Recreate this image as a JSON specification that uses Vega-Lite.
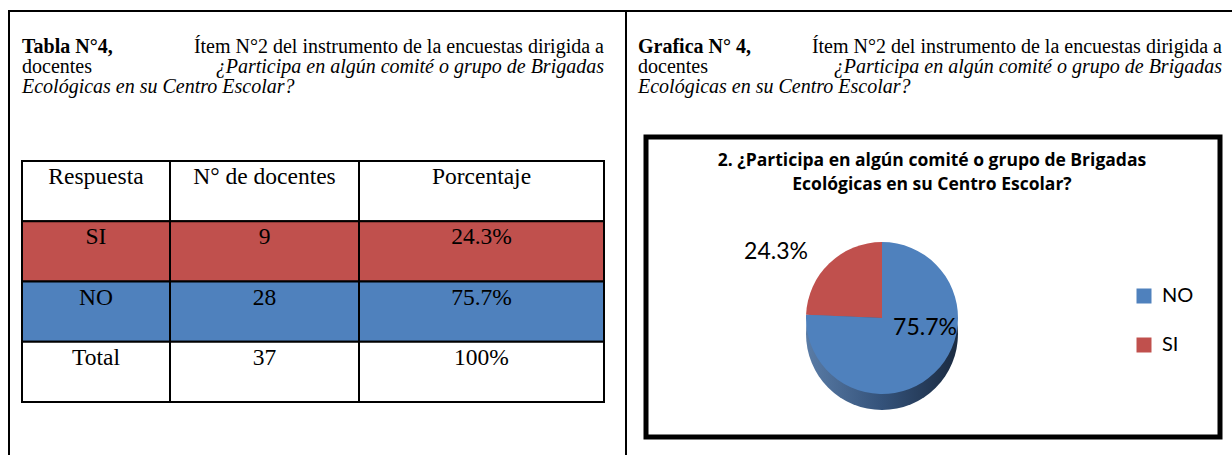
{
  "$schema": "https://vega.github.io/schema/vega-lite/v6.json",
  "width": 1232,
  "height": 455,
  "autosize": "none",
  "padding": 0,
  "background": "white",
  "config": {"view": {"stroke": null}},
  "datasets": {
    "paneles": [{"panel": "Tabla"}, {"panel": "Grafica"}],
    "leyendas": [
      {"panel": "Tabla", "linea": 1, "segmento": 1, "tipo": "rotulo", "texto": "Tabla N°4,"},
      {"panel": "Tabla", "linea": 1, "segmento": 2, "tipo": "texto", "texto": "Ítem N°2 del instrumento de la encuestas dirigida a"},
      {"panel": "Tabla", "linea": 2, "segmento": 1, "tipo": "texto", "texto": "docentes"},
      {"panel": "Tabla", "linea": 2, "segmento": 2, "tipo": "pregunta", "texto": "¿Participa en algún comité o grupo de Brigadas"},
      {"panel": "Tabla", "linea": 3, "segmento": 1, "tipo": "pregunta", "texto": "Ecológicas en su Centro Escolar?"},
      {"panel": "Grafica", "linea": 1, "segmento": 1, "tipo": "rotulo", "texto": "Grafica  N° 4,"},
      {"panel": "Grafica", "linea": 1, "segmento": 2, "tipo": "texto", "texto": "Ítem N°2 del instrumento de la encuestas dirigida a"},
      {"panel": "Grafica", "linea": 2, "segmento": 1, "tipo": "texto", "texto": "docentes"},
      {"panel": "Grafica", "linea": 2, "segmento": 2, "tipo": "pregunta", "texto": "¿Participa en algún comité o grupo de Brigadas"},
      {"panel": "Grafica", "linea": 3, "segmento": 1, "tipo": "pregunta", "texto": "Ecológicas en su Centro Escolar?"}
    ],
    "tabla": [
      {"fila": "encabezado", "columna": "Respuesta", "texto": "Respuesta"},
      {"fila": "encabezado", "columna": "N° de docentes", "texto": "N° de docentes"},
      {"fila": "encabezado", "columna": "Porcentaje", "texto": "Porcentaje"},
      {"fila": "SI", "columna": "Respuesta", "texto": "SI"},
      {"fila": "SI", "columna": "N° de docentes", "texto": "9"},
      {"fila": "SI", "columna": "Porcentaje", "texto": "24.3%"},
      {"fila": "NO", "columna": "Respuesta", "texto": "NO"},
      {"fila": "NO", "columna": "N° de docentes", "texto": "28"},
      {"fila": "NO", "columna": "Porcentaje", "texto": "75.7%"},
      {"fila": "Total", "columna": "Respuesta", "texto": "Total"},
      {"fila": "Total", "columna": "N° de docentes", "texto": "37"},
      {"fila": "Total", "columna": "Porcentaje", "texto": "100%"}
    ],
    "respuestas": [
      {"Respuesta": "SI", "docentes": 9, "porcentaje": "24.3%"},
      {"Respuesta": "NO", "docentes": 28, "porcentaje": "75.7%"}
    ],
    "titulo": [
      {"linea": 1, "texto": "2. ¿Participa en algún comité o grupo de Brigadas"},
      {"linea": 2, "texto": "Ecológicas en su Centro Escolar?"}
    ]
  },
  "layer": [
    {
      "data": {"name": "paneles"},
      "mark": {"type": "rect", "fill": "white", "stroke": "black", "strokeWidth": 2},
      "encoding": {
        "x": {"field": "panel", "type": "nominal", "axis": null, "scale": {"type": "band", "domain": ["Tabla", "Grafica"], "range": [9, 1243], "paddingInner": 0, "paddingOuter": 0}},
        "y": {"datum": "pagina", "type": "nominal", "axis": null, "scale": {"type": "band", "domain": ["pagina"], "range": [11, 480], "paddingInner": 0, "paddingOuter": 0}}
      }
    },
    {
      "data": {"name": "leyendas"},
      "transform": [{"filter": "datum.panel === 'Tabla'"}],
      "mark": {
        "type": "text", "font": "Liberation Serif", "fontSize": 20, "baseline": "alphabetic", "color": "black",
        "align": {"expr": "datum.segmento === 1 ? 'left' : 'right'"},
        "fontWeight": {"expr": "datum.tipo === 'rotulo' ? 'bold' : 'normal'"},
        "fontStyle": {"expr": "datum.tipo === 'pregunta' ? 'italic' : 'normal'"}
      },
      "encoding": {
        "x": {"field": "segmento", "type": "ordinal", "axis": null, "scale": {"type": "point", "domain": [1, 2], "range": [22, 604], "padding": 0}},
        "y": {"field": "linea", "type": "ordinal", "axis": null, "scale": {"type": "point", "domain": [1, 2, 3], "range": [53, 93], "padding": 0}},
        "text": {"field": "texto"}
      }
    },
    {
      "data": {"name": "leyendas"},
      "transform": [{"filter": "datum.panel === 'Grafica'"}],
      "mark": {
        "type": "text", "font": "Liberation Serif", "fontSize": 20, "baseline": "alphabetic", "color": "black",
        "align": {"expr": "datum.segmento === 1 ? 'left' : 'right'"},
        "fontWeight": {"expr": "datum.tipo === 'rotulo' ? 'bold' : 'normal'"},
        "fontStyle": {"expr": "datum.tipo === 'pregunta' ? 'italic' : 'normal'"}
      },
      "encoding": {
        "x": {"field": "segmento", "type": "ordinal", "axis": null, "scale": {"type": "point", "domain": [1, 2], "range": [638, 1222], "padding": 0}},
        "y": {"field": "linea", "type": "ordinal", "axis": null, "scale": {"type": "point", "domain": [1, 2, 3], "range": [53, 93], "padding": 0}},
        "text": {"field": "texto"}
      }
    },
    {
      "data": {"name": "tabla"},
      "transform": [{"filter": "datum.columna === 'Respuesta'"}],
      "encoding": {
        "x": {"field": "columna", "type": "nominal", "axis": null, "scale": {"type": "band", "domain": ["Respuesta"], "range": [22, 170], "paddingInner": 0, "paddingOuter": 0}},
        "y": {"field": "fila", "type": "nominal", "axis": null, "scale": {"type": "band", "domain": ["encabezado", "SI", "NO", "Total"], "range": [161, 402], "paddingInner": 0, "paddingOuter": 0}}
      },
      "layer": [
        {"mark": {"type": "rect", "stroke": "black", "strokeWidth": 2},
         "encoding": {"fill": {"condition": [{"test": "datum.fila === 'SI'", "value": "#C0504D"}, {"test": "datum.fila === 'NO'", "value": "#4F81BD"}], "value": "white"}}},
        {"mark": {"type": "text", "font": "Liberation Serif", "fontSize": 23.5, "baseline": "alphabetic", "dy": -7, "color": "black"},
         "encoding": {"text": {"field": "texto"}}}
      ]
    },
    {
      "data": {"name": "tabla"},
      "transform": [{"filter": "datum.columna === 'N° de docentes'"}],
      "encoding": {
        "x": {"field": "columna", "type": "nominal", "axis": null, "scale": {"type": "band", "domain": ["N° de docentes"], "range": [170, 359], "paddingInner": 0, "paddingOuter": 0}},
        "y": {"field": "fila", "type": "nominal", "axis": null, "scale": {"type": "band", "domain": ["encabezado", "SI", "NO", "Total"], "range": [161, 402], "paddingInner": 0, "paddingOuter": 0}}
      },
      "layer": [
        {"mark": {"type": "rect", "stroke": "black", "strokeWidth": 2},
         "encoding": {"fill": {"condition": [{"test": "datum.fila === 'SI'", "value": "#C0504D"}, {"test": "datum.fila === 'NO'", "value": "#4F81BD"}], "value": "white"}}},
        {"mark": {"type": "text", "font": "Liberation Serif", "fontSize": 23.5, "baseline": "alphabetic", "dy": -7, "color": "black"},
         "encoding": {"text": {"field": "texto"}}}
      ]
    },
    {
      "data": {"name": "tabla"},
      "transform": [{"filter": "datum.columna === 'Porcentaje'"}],
      "encoding": {
        "x": {"field": "columna", "type": "nominal", "axis": null, "scale": {"type": "band", "domain": ["Porcentaje"], "range": [359, 604], "paddingInner": 0, "paddingOuter": 0}},
        "y": {"field": "fila", "type": "nominal", "axis": null, "scale": {"type": "band", "domain": ["encabezado", "SI", "NO", "Total"], "range": [161, 402], "paddingInner": 0, "paddingOuter": 0}}
      },
      "layer": [
        {"mark": {"type": "rect", "stroke": "black", "strokeWidth": 2},
         "encoding": {"fill": {"condition": [{"test": "datum.fila === 'SI'", "value": "#C0504D"}, {"test": "datum.fila === 'NO'", "value": "#4F81BD"}], "value": "white"}}},
        {"mark": {"type": "text", "font": "Liberation Serif", "fontSize": 23.5, "baseline": "alphabetic", "dy": -7, "color": "black"},
         "encoding": {"text": {"field": "texto"}}}
      ]
    },
    {
      "data": {"name": "paneles"},
      "transform": [{"filter": "datum.panel === 'Grafica'"}],
      "mark": {"type": "rect", "fill": "white", "stroke": "black", "strokeWidth": 5},
      "encoding": {
        "x": {"field": "panel", "type": "nominal", "axis": null, "scale": {"type": "band", "domain": ["Grafica"], "range": [646, 1220], "paddingInner": 0, "paddingOuter": 0}},
        "y": {"field": "panel", "type": "nominal", "axis": null, "scale": {"type": "band", "domain": ["Grafica"], "range": [137, 437], "paddingInner": 0, "paddingOuter": 0}}
      }
    },
    {
      "data": {"name": "respuestas"},
      "transform": [{"aggregate": [{"op": "sum", "field": "docentes", "as": "total"}]}],
      "mark": {"type": "arc", "radius": 76, "yOffset": 16,
        "fill": {"gradient": "linear", "x1": 0, "y1": 0, "x2": 1, "y2": 0,
          "stops": [{"offset": 0, "color": "#5A7CA6"}, {"offset": 0.5, "color": "#34527A"}, {"offset": 1, "color": "#1B2B41"}]}},
      "encoding": {
        "theta": {"field": "total", "type": "quantitative", "scale": {"domain": [0, 37]}},
        "x": {"datum": "pie", "type": "nominal", "axis": null, "scale": {"type": "point", "domain": ["pie"], "range": [872, 892]}},
        "y": {"datum": "pie", "type": "nominal", "axis": null, "scale": {"type": "point", "domain": ["pie"], "range": [308, 328]}}
      }
    },
    {
      "data": {"name": "respuestas"},
      "mark": {"type": "arc", "radius": 76},
      "encoding": {
        "theta": {"field": "docentes", "type": "quantitative", "stack": true},
        "order": {"field": "docentes", "type": "quantitative", "sort": "descending"},
        "color": {"field": "Respuesta", "type": "nominal",
          "scale": {"domain": ["NO", "SI"], "range": ["#4F81BD", "#C0504D"]},
          "legend": {"orient": "none", "legendX": 1134, "legendY": 286, "title": null, "symbolType": "square", "symbolSize": 225, "symbolStrokeWidth": 0, "labelFont": "Lato", "labelFontSize": 20, "labelColor": "black", "labelOffset": 8, "rowPadding": 29, "padding": 0}},
        "x": {"datum": "pie", "type": "nominal", "axis": null, "scale": {"type": "point", "domain": ["pie"], "range": [872, 892]}},
        "y": {"datum": "pie", "type": "nominal", "axis": null, "scale": {"type": "point", "domain": ["pie"], "range": [308, 328]}}
      }
    },
    {
      "data": {"name": "respuestas"},
      "mark": {"type": "text", "font": "Lato", "fontSize": 23, "align": "center", "baseline": "middle", "color": "black"},
      "encoding": {
        "x": {"field": "Respuesta", "type": "nominal", "axis": null, "scale": {"type": "point", "domain": ["SI", "NO"], "range": [776, 925], "padding": 0}},
        "y": {"field": "Respuesta", "type": "nominal", "axis": null, "scale": {"type": "point", "domain": ["SI", "NO"], "range": [252, 328], "padding": 0}},
        "text": {"field": "porcentaje"}
      }
    },
    {
      "data": {"name": "titulo"},
      "mark": {"type": "text", "font": "Open Sans", "fontSize": 17.5, "fontWeight": "bold", "align": "center", "baseline": "alphabetic", "color": "black"},
      "encoding": {
        "x": {"datum": "titulo", "type": "nominal", "axis": null, "scale": {"type": "point", "domain": ["titulo"], "range": [922, 942]}},
        "y": {"field": "linea", "type": "ordinal", "axis": null, "scale": {"type": "point", "domain": [1, 2], "range": [166, 190], "padding": 0}},
        "text": {"field": "texto"}
      }
    }
  ],
  "resolve": {"scale": {"x": "independent", "y": "independent", "color": "independent", "theta": "independent"}}
}
